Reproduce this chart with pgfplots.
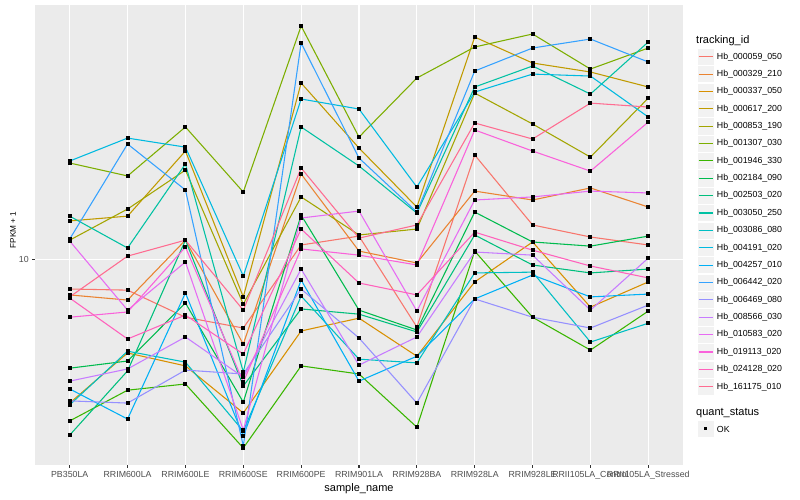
\documentclass[border=0pt]{standalone}
\usepackage{pgfplots}
\pgfplotsset{compat=1.18}
\usepackage{pgfplotstable}
\usepackage{fontspec}
\setmainfont{Liberation Sans}

\definecolor{c1}{HTML}{F8766D}
\definecolor{c2}{HTML}{EA8331}
\definecolor{c3}{HTML}{D89000}
\definecolor{c4}{HTML}{C09B00}
\definecolor{c5}{HTML}{A3A500}
\definecolor{c6}{HTML}{7CAE00}
\definecolor{c7}{HTML}{39B600}
\definecolor{c8}{HTML}{00BB4E}
\definecolor{c9}{HTML}{00BF7D}
\definecolor{c10}{HTML}{00C1A3}
\definecolor{c11}{HTML}{00BFC4}
\definecolor{c12}{HTML}{00BAE0}
\definecolor{c13}{HTML}{00B0F6}
\definecolor{c14}{HTML}{35A2FF}
\definecolor{c15}{HTML}{9590FF}
\definecolor{c16}{HTML}{C77CFF}
\definecolor{c17}{HTML}{E76BF3}
\definecolor{c18}{HTML}{FA62DB}
\definecolor{c19}{HTML}{FF62BC}
\definecolor{c20}{HTML}{FF6C91}
\definecolor{panelbg}{HTML}{EBEBEB}
\definecolor{keybg}{HTML}{F2F2F2}
\definecolor{tickcol}{HTML}{333333}
\definecolor{ticktext}{HTML}{4D4D4D}

% FPKM + 1 per sample (rows) and tracking_id (columns s1..s20)
\pgfplotstableread{
x s1 s2 s3 s4 s5 s6 s7 s8 s9 s10 s11 s12 s13 s14 s15 s16 s17 s18 s19 s20
0 8.85 8.64 5.56 11.68 10.80 14.79 5.17 6.41 4.88 11.91 5.52 14.91 5.89 10.85 5.61 6.08 10.76 7.89 8.53 8.57
1 8.81 8.46 6.82 11.91 12.26 14.03 5.86 6.60 6.34 10.46 6.87 16.37 5.21 15.98 5.56 6.39 8.12 8.06 7.22 10.12
2 7.89 10.80 6.47 15.53 14.37 17.13 6.01 8.36 10.80 14.73 6.57 15.78 8.71 13.25 6.36 7.28 9.88 10.50 7.96 10.80
3 7.55 7.07 5.34 8.57 8.32 13.14 4.63 5.58 5.96 6.31 4.96 9.33 4.86 4.67 6.26 6.18 4.98 6.06 6.79 8.12
4 10.59 14.14 7.46 20.49 12.88 25.85 6.47 11.96 8.16 17.13 8.60 19.20 9.18 24.12 8.85 9.60 11.82 10.42 11.30 14.49
5 10.98 10.33 7.86 15.72 11.03 16.44 6.26 8.12 7.99 14.61 6.65 18.43 6.08 15.09 7.25 6.49 12.16 10.16 9.07 10.89
6 7.58 9.84 6.73 12.36 11.30 20.91 5.04 7.49 7.43 12.06 6.55 13.41 6.73 12.11 5.56 7.28 8.09 9.76 8.64 11.49
7 15.28 13.19 9.11 24.71 19.67 23.73 10.33 12.11 11.03 20.16 9.45 19.75 8.50 21.52 8.50 10.29 12.72 16.92 11.16 17.41
8 11.49 12.72 10.72 22.23 17.34 25.02 7.89 10.72 9.76 21.96 9.48 21.25 9.37 23.63 7.89 10.16 12.88 15.53 10.37 16.31
9 10.94 13.36 8.22 21.43 15.15 21.69 6.90 10.54 9.45 19.59 7.13 21.08 8.57 24.51 7.55 8.12 13.19 14.31 9.72 18.88
10 10.59 12.36 9.11 20.16 19.27 23.63 8.09 10.98 9.60 24.22 7.70 17.84 8.67 22.32 8.29 10.04 13.09 17.48 9.26 18.58
}\fpkm

\begin{document}
\begin{tikzpicture}
\begin{axis}[
    set layers,
    mark layer=axis foreground,
    at={(35pt,35pt)}, anchor=south west,
    scale only axis, width=648pt, height=460pt,
    ymode=log, ymin=4.32, ymax=28.16,
    xmin=-0.6, xmax=10.6,
    axis background/.style={fill=panelbg},
    axis line style={draw=none},
    xtick={0,...,10},
    xticklabels={PB350LA,RRIM600LA,RRIM600LE,RRIM600SE,RRIM600PE,RRIM901LA,RRIM928BA,RRIM928LA,RRIM928LE,RRII105LA\_Control,RRII105LA\_Stressed},
    ytick={10}, yticklabels={10},
    minor ytick={},
    grid=major,
    major grid style={white, line width=1.07pt},
    tick align=outside, xtick pos=bottom, ytick pos=left,
    major tick length=2.75pt,
    tick style={draw=tickcol, line width=1.07pt},
    ticklabel style={font=\fontsize{8.8}{10}\selectfont, text=ticktext},
    xlabel={sample\_name}, ylabel={FPKM + 1},
    label style={font=\fontsize{11}{12}\selectfont, text=black},
    xlabel style={at={(axis description cs:0.5,0)}, anchor=north, yshift=-15pt},
    ylabel style={at={(axis description cs:-0.034,0.511)}, anchor=center,
                  font=\fontsize{8.2}{9}\selectfont},
]
\pgfplotsinvokeforeach{1,...,20}{
  \addplot[color=c#1, line width=1.07pt, mark=square*, mark size=1.5pt,
           mark options={black, fill=black, solid}] table[x=x, y=s#1] {\fpkm};
}
\end{axis}

% legend: tracking_id
\node[anchor=west, inner sep=0, font=\fontsize{11}{12}\selectfont] at (696pt,459.3pt) {tracking\_id};
\foreach \i/\name in {1/000059\_050, 2/000329\_210, 3/000337\_050, 4/000617\_200,
    5/000853\_190, 6/001307\_030, 7/001946\_330, 8/002184\_090, 9/002503\_020,
    10/003050\_250, 11/003086\_080, 12/004191\_020, 13/004257\_010, 14/006442\_020,
    15/006469\_080, 16/008566\_030, 17/010583\_020, 18/019113\_020, 19/024128\_020,
    20/161175\_010} {
  \pgfmathsetmacro\yy{500-56.7-(\i-1)*17.37}
  \filldraw[fill=keybg, draw=white, line width=0.5pt] (697pt,\yy pt-8.6pt) rectangle (714.3pt,\yy pt+8.6pt);
  \draw[color=c\i, line width=1.07pt] (698.7pt,\yy pt) -- (712.6pt,\yy pt);
  \node[anchor=west, inner sep=0, font=\fontsize{8.8}{10}\selectfont] at (716.7pt,\yy pt) {Hb\_\name};
}

% legend: quant_status
\node[anchor=west, inner sep=0, font=\fontsize{11}{12}\selectfont] at (696pt,87.3pt) {quant\_status};
\filldraw[fill=keybg, draw=white, line width=0.5pt] (697pt,62.4pt) rectangle (714.3pt,79.6pt);
\fill[black] (704.1pt,69.5pt) rectangle (707.1pt,72.5pt);
\node[anchor=west, inner sep=0, font=\fontsize{8.8}{10}\selectfont] at (716.7pt,71pt) {OK};

\path (0pt,0pt) rectangle (800pt,500pt);
\end{tikzpicture}
\end{document}
